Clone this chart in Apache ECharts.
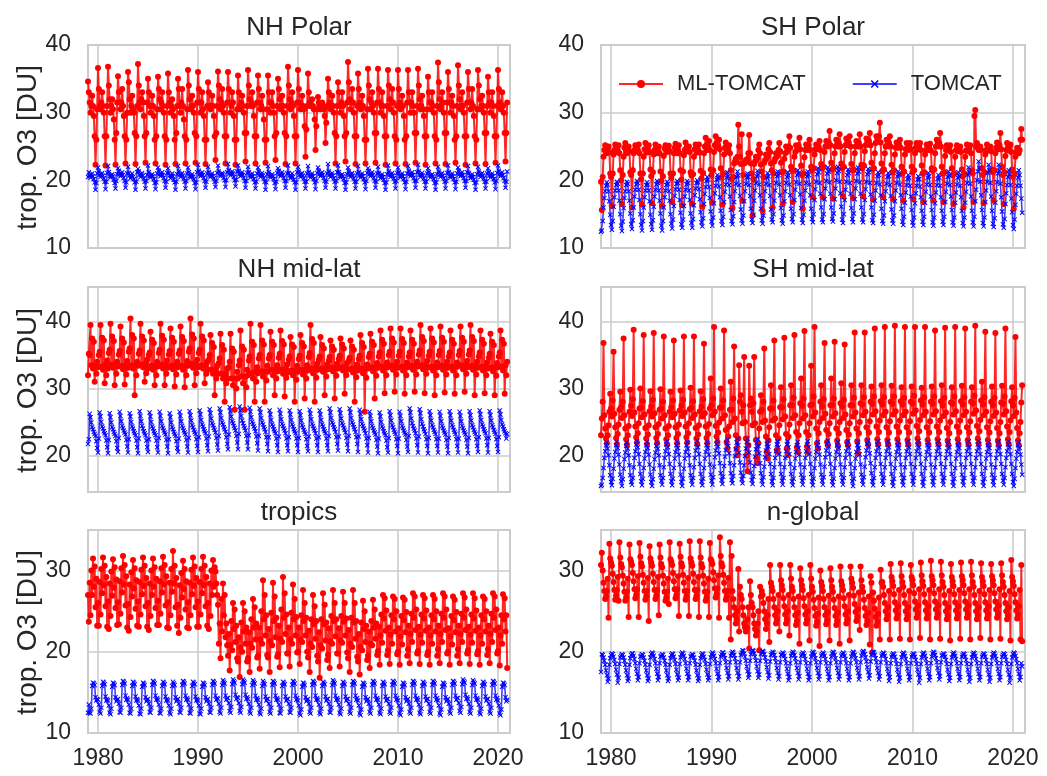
<!DOCTYPE html>
<html>
<head>
<meta charset="utf-8">
<title>Tropospheric ozone column: ML-TOMCAT vs TOMCAT</title>
<script src="https://cdn.jsdelivr.net/npm/echarts@6/dist/echarts.min.js"></script>
<style>
  html, body { margin: 0; padding: 0; background: #ffffff; }
  #chart { width: 1047px; height: 776px; }
</style>
</head>
<body>
<div id="chart"></div>
<script>
// Monthly tropospheric O3 columns [DU], Jan 1979 - Dec 2020, one row per year (Jan..Dec).
const START_YEAR = 1979;
const panelTitles = ['NH Polar', 'SH Polar', 'NH mid-lat', 'SH mid-lat', 'tropics', 'n-global'];
const seriesNames = ['ML-TOMCAT', 'TOMCAT'];
const yAxisTitle = 'trop. O3 [DU]';
const yMin = [10, 10, 14.5, 14.5, 10, 10];
const yMax = [40, 40, 45.2, 45.2, 35, 35];

const nhPolarML = [
[34.6,33,31.5,30,31,32.5,31,29.5,26.5,22.3,26,30.5],
[36.6,33.5,31,30.5,31.5,33,31,30,26.5,22.2,26.5,31],
[36.8,34,32,30,31,32,30.5,29,26,22.3,27,31.5],
[35.4,33,31.5,30.5,31.5,33.5,31,29.5,26.5,22.5,26,30],
[36,34.5,32,30,31,32.5,30.5,30,27,22.4,26.5,31],
[37.2,34,31.5,30.5,32,33,31.5,29.5,26.5,22.6,27,31.5],
[35,33,31,30,31,32.5,31,29.5,26,22.5,26.5,30.5],
[35.3,33.5,32,30.5,31.5,33,31,30,26.5,22.3,26,31],
[35.8,33,31.5,30,31,32,30.5,29.5,26,22.4,27,31],
[35,33.5,31,30,31.5,33.5,31,29,26.5,22.5,26,30.5],
[36.3,34,32,30.5,31,32.5,31,30,27,22.6,26.5,31.5],
[36,33.5,31.5,30,31.5,33,30.5,29.5,26,22.4,26,31],
[34.5,33,31,30.5,31,32.5,31,29.5,26.5,23,27,31],
[36.1,34,32,30.5,31.5,33.5,31,30,26.5,22.5,26.5,31.5],
[36,33.5,31.5,30,31,33,31.5,29.5,26,22.3,26,30.5],
[35.5,33,31,30.5,31.5,32.5,31,30,27,22.8,27,31],
[36.3,34,32,31,31.5,33,31,29.5,26.5,22.5,26.5,31.5],
[35.5,33.5,31.5,30.5,31,32.5,30.5,29,26,22.6,26,30.5],
[35.5,33,31.5,30,31.5,33,31,30,26.5,23,27,31],
[35,33.5,32,30.5,31,32.5,31,30,27,22.4,26.5,31],
[36.8,34,32,30.5,31.5,33,31,29.5,26.5,22.5,26.5,31.5],
[36.3,33.5,31.5,30.5,31,32.5,31,30.5,28,23.5,27.5,31],
[35.8,33,31.5,31,31,32,31,30.5,29,24.5,28,30.5],
[32.3,31.5,31,30.5,31,31.5,31,30.5,29.5,25.5,28.5,31],
[35,33,31.5,30.5,31,32.5,31,30,27,22.5,26.5,31],
[34.5,33,31,30,31.5,33,31,29.5,26.5,22.8,27,31.5],
[37.5,34.5,32,30.5,31.5,33.5,31.5,30,26.5,22.4,26.5,31],
[35.8,33.5,31.5,30.5,31,32.5,31,29.5,26,22.5,26,30.5],
[36.5,34,32,30.5,31.5,33,31,30,27,22.6,27,31.5],
[36.5,33.5,31.5,30,31,33,31,29.5,26.5,22.3,26.5,31],
[36.3,34,32,30.5,31.5,33.5,31.5,30,26.5,22.5,26,31],
[36.3,33.5,31.5,30.5,31,32.5,31,29.5,26,22.4,26.5,31.5],
[36.3,33,31.5,30,31.5,33,31,30,27,22.6,27,31],
[36.5,34,32,30.5,31,32.5,30.5,29.5,26.5,22.3,26.5,30.5],
[35.3,33,31.5,30.5,31.5,33,31,30,26.5,22.5,26,31],
[37.4,34.5,32,30.5,31,33,31.5,30,27,22.4,27,31.5],
[36,33.5,31.5,30,31.5,32.5,31,29.5,26,22.6,26.5,31],
[37,34,32,30.5,31,33,31,30,26.5,22.3,26.5,31.5],
[36,33.5,31.5,30.5,31.5,33.5,31,29.5,26.5,22.5,26,30.5],
[36.3,34,32,30.5,31,32.5,31,30,27,22.4,27,31],
[35.3,33,31.5,30,31.5,33,31,29.5,26.5,22.6,26.5,31],
[36.3,33.5,31.5,30.5,31,33,31,30,27,22.8,27,31.5]
];

const nhPolarTC = [
[20.5,21.2,20.7,20.4,20.8,21,20.6,20.2,19.7,18.6,19.6,21],
[21.9,21.3,20.8,20.5,20.9,21.1,20.7,20.3,19.8,18.7,19.8,21.1],
[22.1,21.2,20.6,20.4,20.7,20.9,20.6,20.1,19.6,18.8,19.9,20.9],
[21.8,21.4,20.9,20.6,20.8,21.2,20.8,20.4,19.9,18.9,19.7,21],
[22,21.1,20.7,20.3,20.6,21,20.5,20.2,19.7,18.6,19.8,21.2],
[21.7,21.3,20.8,20.5,20.9,21.1,20.7,20.3,19.8,18.8,19.9,20.8],
[22.2,21.2,20.6,20.4,20.7,20.9,20.6,20.2,19.6,18.7,19.7,21],
[21.9,21.4,20.9,20.6,20.8,21.2,20.8,20.4,19.9,18.9,19.8,21.1],
[21.8,21.1,20.7,20.3,20.7,21,20.6,20.1,19.7,18.6,19.8,20.9],
[22.1,21.3,20.8,20.5,20.9,21.1,20.7,20.3,19.8,18.8,19.9,21],
[21.9,21.2,20.6,20.4,20.6,20.9,20.5,20.2,19.6,18.7,19.7,21.2],
[22.3,21.4,20.9,20.6,20.8,21.2,20.8,20.4,19.9,18.9,19.8,21],
[22,21.2,20.7,20.5,20.7,21,20.6,20.3,19.8,19,19.9,21.1],
[22.2,21.3,20.8,20.6,20.9,21.1,20.9,20.4,20,19,20,21.2],
[22.4,21.5,21,20.7,21,21.3,21,20.5,20,19.1,20.1,21.3],
[22.2,21.4,20.9,20.6,20.9,21.2,20.8,20.4,19.9,18.9,19.9,21.1],
[22,21.2,20.7,20.4,20.7,21,20.6,20.2,19.7,18.8,19.8,21],
[21.9,21.3,20.8,20.5,20.8,21.1,20.7,20.3,19.8,18.6,19.7,20.9],
[22.1,21.2,20.6,20.4,20.7,20.9,20.6,20.2,19.6,18.7,19.8,21.1],
[21.8,21.4,20.9,20.6,20.8,21.2,20.8,20.4,19.9,18.9,19.9,21],
[22.2,21.1,20.7,20.3,20.6,21,20.5,20.1,19.7,18.6,19.7,21.2],
[22,21.3,20.8,20.5,20.9,21.1,20.7,20.3,19.8,18.8,19.8,21],
[22.1,21.2,20.7,20.4,20.7,21,20.6,20.2,19.7,18.7,19.9,21.1],
[21.9,21.4,20.9,20.6,20.8,21.2,20.8,20.4,19.9,18.9,19.8,21],
[22.4,21.3,20.8,20.5,20.8,21.1,20.7,20.3,19.8,18.8,19.9,21.2],
[22.2,21.2,20.6,20.4,20.7,20.9,20.6,20.2,19.6,18.6,19.7,20.9],
[21.9,21.3,20.8,20.5,20.9,21.1,20.7,20.3,19.8,18.8,19.8,21],
[22.1,21.2,20.7,20.4,20.7,21,20.6,20.2,19.7,18.7,19.9,21.1],
[21.8,21.4,20.9,20.6,20.8,21.2,20.8,20.4,19.9,18.9,19.8,21],
[22,21.1,20.7,20.3,20.6,20.9,20.5,20.1,19.6,18.6,19.7,20.9],
[22.2,21.3,20.8,20.5,20.9,21.1,20.7,20.3,19.8,18.8,19.9,21.1],
[21.9,21.2,20.6,20.4,20.7,21,20.6,20.2,19.7,18.7,19.8,21],
[22.1,21.4,20.9,20.6,20.8,21.2,20.8,20.4,19.9,18.9,19.9,21.2],
[22.3,21.3,20.8,20.5,20.8,21.1,20.7,20.3,19.8,18.8,19.8,21],
[21.8,21.2,20.7,20.4,20.7,20.9,20.6,20.2,19.6,18.6,19.7,20.9],
[22,21.3,20.8,20.5,20.9,21.1,20.7,20.3,19.8,18.8,19.9,21.1],
[22.2,21.2,20.6,20.4,20.7,21,20.6,20.2,19.7,18.7,19.8,21],
[21.9,21.4,20.9,20.6,20.8,21.2,20.8,20.4,19.9,18.9,19.9,21.2],
[22.1,21.1,20.7,20.3,20.6,20.9,20.5,20.1,19.6,18.6,19.7,20.9],
[22,21.3,20.8,20.5,20.9,21.1,20.7,20.3,19.8,18.8,19.8,21],
[21.8,21.2,20.7,20.4,20.7,21,20.6,20.2,19.7,18.7,19.9,21.1],
[22.2,21.4,20.9,20.6,20.8,21.2,20.8,20.4,19.9,18.9,19.8,21.3]
];

const shPolarML = [
[19.8,15.6,20.5,23.5,24.5,25.2,24.5,24,24.8,25,24.2,21],
[20.5,16.2,21,23.8,24.5,25.3,24.6,24.2,24.5,25.2,24,21.5],
[20,16.5,20.8,23.5,24.8,25.5,24.5,24,24.6,25,24.3,21.2],
[20.8,16,21.5,24,24.5,25.2,24.8,24.3,24.5,25.3,24,21],
[20.2,16.4,21,23.5,24.6,25.5,24.5,24.1,24.8,25.2,24.2,21.6],
[20.6,16.6,21.2,23.8,24.5,25.3,24.7,24,24.5,25,24,21.3],
[19.9,16.2,20.6,23.6,24.7,25.2,24.5,24.2,24.6,25.1,24.3,21],
[20.4,16.8,21,24,24.8,25.4,24.6,24,24.5,25.2,24,21.5],
[20.1,16.3,21.3,23.7,24.5,25.6,24.8,24.3,24.7,25,24.2,21.2],
[20.7,16.5,20.9,23.5,24.6,25.3,24.5,24.1,24.5,25.3,24.1,21.4],
[20.3,16.1,21.1,24,25,26.3,25.2,24.5,25,25.8,24.5,21.6],
[20.8,16.7,21.5,24.2,25.2,26.5,25.5,24.8,25.2,26,24.6,21.8],
[20.5,16.4,21,23.8,24.8,25.6,24.8,24.2,24.6,25.2,24,21.5],
[20.2,15.9,20.5,22.5,22.8,23.2,22.7,23.5,28.2,25,23.5,22.4],
[26.8,17,20.8,22.5,22.6,23,22.8,23.2,24,26.7,24,22.5],
[21,14.8,20.2,22.4,22.8,23.5,23,23.4,24.5,25.3,24,22.3],
[21.3,15.5,20.5,22.6,23,23.8,23.2,23.6,24.6,25.5,24.2,22.5],
[21.5,16,21,22.8,23.2,24,23.5,23.8,24.5,25.5,24.3,22.6],
[21.2,16.5,21.3,23.2,24,25,24.2,24.5,25,26.5,24.8,22],
[21.5,16.8,21.5,23.5,24.2,25.2,24.5,24.6,25.2,26.3,24.6,22.2],
[20.8,15.8,21,23.4,24.5,25.3,24.8,24.5,25.2,26,24.5,22],
[21.5,17.5,21.8,23.8,24.6,25.3,24.8,24.6,25,25.8,24.5,22.4],
[21.8,17.5,22,24.2,25,25.8,25.2,25,25.6,27.3,25.2,22.6],
[21.6,17.3,21.8,24,25,26,25.3,25,25.5,26.8,25,22.5],
[21.8,17.6,22,24.2,25.2,26.2,25.5,25.2,25.6,26.5,25,22.4],
[21.5,17.4,21.6,24,25,25.8,25.2,25,25.5,26.8,25,22.3],
[21.8,17.6,22.2,24.3,25.2,26.2,25.6,25.3,25.8,27,25.2,22.6],
[21.6,17.2,21.8,24,25.5,26.5,26,25.8,26.5,28.5,25.6,22.5],
[21.4,17.5,21.6,24,25,26,25.3,25,25.5,26.5,25,22.3],
[21.2,17.2,21.5,23.8,24.8,25.6,25,24.8,25.3,26,24.8,22],
[21,17,21.3,23.8,24.6,25.5,24.8,24.5,25,25.5,24.6,22],
[21.2,17.2,21.5,24,24.8,25.5,25,24.6,25,25.5,24.5,22.2],
[21,16.8,21.2,23.8,24.5,25.3,24.8,24.5,24.8,25.4,24.4,21.8],
[21.4,17,21.6,24,25,26,25.3,25,25.5,27,25,22],
[21,16.8,21.2,23.6,24.5,25.2,24.7,24.4,24.8,25.2,24.2,21.8],
[20.8,16.5,21,23.5,24.5,25.2,24.6,24.3,24.7,25,24.2,21.6],
[20.6,16,21,23.5,24.4,25.3,24.5,24.3,24.6,25.2,24,21.5],
[21,16.8,29.5,30.4,25,25.5,24.8,24.5,24.8,25,24.5,21.8],
[20.8,16.6,21.2,23.8,24.5,25.3,24.7,24.4,24.8,25,24.3,21.6],
[21.2,17,21.5,24,24.8,25.6,25,24.6,25.2,27,24.6,22],
[20.8,16.5,21.2,23.6,24.5,25.5,24.8,24.4,24.8,25.3,24.2,21.6],
[20.5,15.8,21,23.5,24.2,24.8,24.2,24,24.5,26,27.6,26]
];

const shPolarTC = [
[12.4,12.6,14,16,17.4,18.4,19.2,19.7,19.4,18.4,16.9,14.9],
[13.4,12.7,14,16.1,17.5,18.5,19.3,19.8,19.5,18.5,17,15],
[13.3,12.5,13.9,15.9,17.4,18.4,19.3,19.8,19.5,18.4,17,15.1],
[13.5,12.8,14.1,16,17.6,18.6,19.4,19.9,19.6,18.6,17.1,15],
[13.4,12.6,14,16,17.5,18.5,19.3,19.7,19.4,18.5,16.9,14.9],
[13.5,12.7,14.1,16.1,17.6,18.6,19.4,19.9,19.6,18.5,17,15.1],
[13.3,12.6,14,16,17.5,18.5,19.3,19.8,19.5,18.4,17,15],
[13.6,12.9,14.2,16.2,17.7,18.7,19.5,19.9,19.6,18.6,17.1,15.2],
[13.5,13,14.2,16.2,17.6,18.6,19.4,19.9,19.6,18.5,17.1,15.1],
[13.7,13,14.3,16.3,17.8,18.8,19.6,20,19.7,18.7,17.2,15.3],
[13.8,13.2,14.4,16.5,18,19,19.9,20.5,20.1,19,17.4,15.4],
[13.9,13.3,14.5,16.6,18.1,19.2,20.1,20.8,20.3,19.1,17.5,15.5],
[14,13.4,14.6,16.8,18.3,19.4,20.4,21.2,20.6,19.3,17.6,15.6],
[14,13.5,14.7,16.8,18.4,19.5,20.5,21.3,20.7,19.3,17.7,15.7],
[14.1,13.6,14.8,16.9,18.4,19.5,20.4,21,20.5,19.3,17.7,15.8],
[14.2,13.7,14.9,17,18.5,19.6,20.6,21.4,20.8,19.4,17.8,15.8],
[14.1,13.6,14.8,16.9,18.4,19.5,20.4,21.1,20.6,19.3,17.7,15.7],
[14.2,13.8,15,17,18.5,19.6,20.6,21.3,20.8,19.4,17.8,15.9],
[14.1,13.6,14.8,16.9,18.4,19.6,20.5,21.2,20.7,19.4,17.8,15.8],
[14.3,13.8,15,17.1,18.6,19.7,20.8,21.5,21,19.5,17.9,15.9],
[14.2,13.7,14.9,17,18.5,19.6,20.6,21.3,20.8,19.4,17.8,15.8],
[14.3,13.8,15,17.1,18.7,19.8,20.9,21.8,21.2,19.6,18,16],
[14.2,13.8,15,17.2,18.8,19.9,21,21.9,21.3,19.7,18,16],
[14.3,13.9,15.1,17.2,18.8,20,21.1,22,21.4,19.8,18.1,16.1],
[14.2,13.7,15,17.1,18.6,19.8,20.8,21.6,21.1,19.6,18,15.9],
[14.3,13.8,15.1,17.2,18.8,19.9,21,21.9,21.3,19.7,18,16],
[14.2,13.8,15,17.1,18.7,19.8,20.9,21.7,21.2,19.6,17.9,16],
[14.1,13.7,14.9,17,18.5,19.6,20.6,21.2,20.8,19.4,17.8,15.8],
[14,13.6,14.8,16.9,18.4,19.5,20.5,21.1,20.6,19.3,17.7,15.7],
[14.1,13.6,14.8,16.9,18.5,19.6,20.6,21.3,20.8,19.4,17.8,15.8],
[13.9,13.4,14.6,16.7,18.2,19.3,20.2,20.8,20.4,19.2,17.6,15.6],
[13.8,13.3,14.5,16.6,18.1,19.2,20.1,20.6,20.2,19.1,17.5,15.5],
[13.9,13.4,14.6,16.7,18.3,19.4,20.4,21.1,20.6,19.3,17.6,15.6],
[13.8,13.3,14.5,16.6,18.2,19.3,20.2,20.8,20.4,19.2,17.5,15.5],
[13.9,13.4,14.6,16.8,18.3,19.5,20.5,21.3,20.7,19.3,17.6,15.6],
[13.8,13.3,14.5,16.7,18.2,19.4,20.4,21.2,20.6,19.2,17.5,15.5],
[13.7,13.2,14.5,16.7,18.3,19.6,20.8,21.9,21.2,19.5,17.6,15.5],
[13.8,13.2,14.6,16.9,18.6,20,21.3,22.8,21.8,19.8,17.8,15.6],
[13.7,13.2,14.5,16.8,18.5,19.8,21.1,22.3,21.5,19.6,17.6,15.5],
[13.6,13.1,14.4,16.7,18.4,19.7,21,22.3,21.4,19.5,17.5,15.4],
[13.5,13,14.3,16.5,18.1,19.3,20.5,21.5,20.9,19.3,17.3,15.3],
[13.4,12.8,14.2,16.4,18,19.2,20.4,21.5,20.8,19.2,17.3,15.2]
];

const nhMidML = [
[32,35.2,35,39.5,33.5,37.5,33,37,31,33.5,32.2,34],
[33.2,35,35.5,39.5,33.3,37.6,32.8,37.2,30.8,33.6,32,34.2],
[33,35.3,35.8,39.7,33.6,37.8,33.1,37.1,30.5,33.4,32.2,34],
[33.3,35.1,35.6,39.3,33.4,37.5,32.9,36.9,30.6,33.5,32.1,34.1],
[33.1,35.5,36,40.5,33.5,38,33,37.5,29,33.5,32,34],
[33.4,35.2,35.7,39.7,33.6,37.8,33.2,37.2,31,33.7,32.3,34.3],
[33,35,35.4,38.5,33.4,37.3,32.8,36.8,30.5,33.4,32,34],
[33.3,35.3,35.8,39.7,33.6,37.9,33,37.3,30.5,33.6,32.2,34.2],
[33.1,35.1,35.6,39,33.5,37.6,32.9,37,30.3,33.5,32.1,34],
[33.2,35.2,35.7,39.3,33.4,37.7,32.8,37.1,30.2,33.4,32,34.1],
[33.4,35.5,36,40.5,33.7,38.1,33.1,37.5,30.5,33.7,32.3,34.3],
[33.2,35.3,35.8,39.7,33.5,37.8,33,37.2,30.8,33.5,32.2,34],
[32.8,34.3,35,38,32.8,36.8,32.2,36.2,29,32.8,31.5,33.4],
[32.2,33.8,34.5,38.2,32.2,36.5,31.5,35.8,28,32.2,30.8,33],
[31.5,33.2,34,38.2,31.5,36,30.5,35.5,26.8,31.5,30,32.5],
[31.5,33.5,34.2,38.7,31.8,36.3,30.8,35.8,26.8,31.8,30.2,32.8],
[32,34.2,34.8,39.7,32.3,37,31.5,36.5,28,32.5,31,33.2],
[32.3,34.5,35,39.5,32.6,37.2,31.8,36.6,28,32.6,31.2,33.4],
[32.5,34.5,35,38.5,32.8,37,32,36.5,29,32.8,31.5,33.5],
[32.6,34.6,35.2,38.7,32.9,37.1,32.2,36.6,28.8,32.9,31.6,33.6],
[32.4,34.3,34.8,37.7,32.7,36.6,32,36.2,28,32.7,31.3,33.4],
[32.5,34.4,34.9,38,32.8,36.8,32.1,36.3,28.5,32.8,31.5,33.5],
[32.7,34.7,35.3,39.5,33,37.4,32.3,36.8,28,33,31.6,33.7],
[32.8,34.3,34.8,37.7,33,36.5,32.5,36,29,33,31.8,33.6],
[32.9,34.2,34.7,37.2,33.1,36.3,32.6,35.8,28.5,33.1,31.9,33.7],
[33,34.4,34.9,37.5,33.2,36.6,32.7,36,29.2,33.2,32,33.8],
[32.8,34.2,34.6,37.2,33,36.3,32.4,35.8,28,33,31.7,33.6],
[32.7,34.4,34.9,38,33,36.8,32.3,36.2,26.5,33,31.6,33.6],
[33,34.7,35.2,38.2,33.2,37,32.6,36.5,28.5,33.2,31.9,33.8],
[33.1,34.8,35.4,38.7,33.3,37.3,32.7,36.7,29.3,33.3,32,33.9],
[33.2,35,35.5,39,33.4,37.5,32.8,36.9,29.5,33.4,32.1,34],
[33.1,34.9,35.5,39,33.3,37.4,32.7,36.8,29.2,33.3,32,33.9],
[33.2,34.8,35.4,38.7,33.4,37.3,32.8,36.7,29.5,33.4,32.1,34],
[33.3,35.1,35.7,39.5,33.5,37.7,32.9,37.1,29.3,33.5,32.2,34.1],
[33.1,34.9,35.5,39,33.3,37.5,32.7,36.9,29,33.3,32,33.9],
[33.2,35,35.6,39.3,33.4,37.6,32.8,37,29.4,33.4,32.1,34],
[33.1,34.8,35.4,38.7,33.3,37.3,32.7,36.7,29.2,33.3,32,33.9],
[33.3,35,35.6,39.3,33.5,37.6,32.9,37,29.5,33.5,32.2,34.1],
[33.2,35.1,35.7,39.5,33.4,37.7,32.8,37.1,29,33.4,32.1,34],
[33.1,34.8,35.4,38.7,33.3,37.3,32.7,36.7,29.3,33.3,32,33.9],
[33,34.6,35.2,38.2,33.2,37,32.6,36.5,29,33.2,31.9,33.8],
[33.2,34.8,35.4,38.7,33.3,37.3,32.7,36.7,29.2,33.5,32,34]
];

const nhMidTC = [
[21.7,22.4,26.2,25.7,24.9,24.2,23.9,23.5,23.2,22.9,22.1,21.1],
[20.4,22.5,26.4,25.8,25,24.3,24,23.6,23.3,23,22.2,21.2],
[20.3,22.3,26.3,25.7,24.9,24.2,23.9,23.5,23.2,22.9,22.1,21.1],
[20.5,22.6,26.5,25.9,25.1,24.4,24.1,23.7,23.4,23.1,22.3,21.3],
[20.4,22.4,26.3,25.8,25,24.3,24,23.6,23.3,23,22.2,21.2],
[20.3,22.5,26.6,25.9,25.1,24.4,24,23.6,23.3,23,22.2,21.2],
[20.5,22.4,26.4,25.8,25,24.3,24,23.6,23.3,23,22.2,21.2],
[20.4,22.6,26.5,25.9,25.1,24.4,24.1,23.7,23.4,23.1,22.3,21.3],
[20.3,22.4,26.3,25.7,24.9,24.2,23.9,23.5,23.2,22.9,22.1,21.1],
[20.5,22.5,26.5,25.9,25.1,24.4,24.1,23.7,23.4,23.1,22.3,21.3],
[20.4,22.6,26.6,26,25.2,24.5,24.2,23.8,23.5,23.2,22.4,21.4],
[20.5,22.7,26.7,26.1,25.3,24.6,24.3,23.9,23.6,23.3,22.5,21.5],
[20.6,22.8,26.9,26.3,25.5,24.8,24.5,24.1,23.8,23.4,22.6,21.6],
[20.7,22.9,27,26.4,25.6,24.9,24.6,24.2,23.9,23.5,22.7,21.7],
[20.9,23.1,27.2,26.6,25.8,25.1,24.8,24.4,24.1,23.7,22.9,21.9],
[20.9,23.2,27.3,26.7,25.9,25.2,24.8,24.4,24.1,23.7,22.9,21.9],
[20.9,23,27.1,26.5,25.7,25,24.7,24.3,24,23.6,22.8,21.8],
[20.7,22.9,27,26.4,25.6,24.9,24.6,24.2,23.9,23.5,22.7,21.7],
[20.6,22.7,26.7,26.1,25.3,24.6,24.3,23.9,23.6,23.3,22.5,21.5],
[20.5,22.8,26.8,26.2,25.4,24.7,24.4,24,23.7,23.3,22.5,21.5],
[20.6,22.7,26.7,26.1,25.3,24.6,24.3,23.9,23.6,23.3,22.5,21.5],
[20.5,22.6,26.6,26,25.2,24.5,24.2,23.8,23.5,23.2,22.4,21.4],
[20.6,22.8,26.8,26.2,25.4,24.7,24.4,24,23.7,23.3,22.5,21.5],
[20.5,22.7,26.7,26.1,25.3,24.6,24.3,23.9,23.6,23.3,22.5,21.5],
[20.6,22.9,27,26.4,25.6,24.9,24.6,24.2,23.9,23.5,22.7,21.7],
[20.7,22.8,26.9,26.3,25.5,24.8,24.5,24.1,23.8,23.4,22.6,21.6],
[20.6,22.9,27,26.4,25.6,24.9,24.6,24.2,23.9,23.5,22.7,21.7],
[20.5,22.8,26.8,26.2,25.4,24.7,24.4,24,23.7,23.3,22.5,21.5],
[20.4,22.6,26.5,25.9,25.1,24.4,24.1,23.7,23.4,23.1,22.3,21.3],
[20.3,22.5,26.4,25.8,25,24.3,24,23.6,23.3,23,22.2,21.2],
[20.4,22.6,26.6,26,25.2,24.5,24.2,23.8,23.5,23.2,22.4,21.4],
[20.3,22.5,26.5,25.9,25.1,24.4,24.1,23.7,23.4,23.1,22.3,21.3],
[20.5,22.9,27,26.4,25.5,24.8,24.4,24,23.7,23.3,22.5,21.5],
[20.4,22.8,26.9,26.3,25.4,24.7,24.3,23.9,23.6,23.2,22.4,21.4],
[20.3,22.6,26.6,26,25.2,24.5,24.2,23.8,23.5,23.2,22.4,21.4],
[20.4,22.5,26.5,25.9,25.1,24.4,24.1,23.7,23.4,23.1,22.3,21.3],
[20.3,22.6,26.6,26,25.2,24.5,24.2,23.8,23.5,23.2,22.4,21.4],
[20.4,22.5,26.5,25.9,25.1,24.4,24.1,23.7,23.4,23.1,22.3,21.3],
[20.3,22.6,26.6,26,25.2,24.5,24.2,23.8,23.5,23.2,22.4,21.4],
[20.5,22.7,26.7,26.1,25.3,24.6,24.3,23.9,23.6,23.3,22.5,21.5],
[20.4,22.6,26.6,26,25.2,24.5,24.2,23.8,23.5,23.2,22.4,21.4],
[20.5,22.7,26.7,26.1,25.3,24.6,24.3,23.9,23.6,23.3,22.5,23.2]
];

const shMidML = [
[23,25.5,28,36.8,26,24,22.5,21.8,23,24.5,26.5,29.2],
[27,25.8,28.2,35.5,26.2,24.2,22.6,21.7,23.2,24.6,26.8,29.5],
[27.2,25.6,28,37.5,26,24,22.4,21.6,23,24.4,26.5,29.8],
[27.4,25.9,28.4,38.8,26.4,24.3,22.7,21.9,23.3,24.8,27,30],
[27.1,25.7,28.1,38,26.1,24.1,22.5,21.7,23.1,24.5,26.6,29.6],
[27.3,25.8,28.3,38.3,26.3,24.2,22.6,21.8,23.2,24.7,26.8,29.9],
[27,25.5,28,37.8,26,24,22.4,21.6,23,24.4,26.5,29.5],
[27.2,25.7,28.2,37.2,26.2,24.2,22.6,21.8,23.2,24.6,26.7,29.7],
[27.4,25.9,28.3,37.8,26.4,24.3,22.7,21.9,23.3,24.8,26.9,30.1],
[27.1,25.6,28.1,37.8,26.1,24.1,22.5,21.7,23.1,24.5,26.6,29.6],
[27.3,25.8,28.4,36.7,26.3,24.3,22.6,21.8,23.2,24.7,27,31.5],
[27.5,26,28.5,39.2,26.5,24.4,22.8,22,23.4,24.9,27.1,30],
[27.2,25.5,28.2,38.7,26,23.8,22,21,22.8,24.3,26.8,31],
[26.8,25,28.5,36.3,25.5,23,21,20,22.5,33.5,28,29],
[26.5,24.8,27.5,34.7,25,22.5,20,17.6,21.5,33.4,27.5,28.5],
[26.5,24.5,27.8,34.7,24.8,22.3,19.5,18.8,21.8,24,26.5,29],
[26.8,25,28,36,25.2,22.8,20.5,19.5,22.2,24.2,27,30.5],
[27,25.2,28.2,37.2,25.5,23,20.8,20.5,22.5,24.5,27.2,30.2],
[27.2,25.4,28.4,37.6,25.8,23.2,21,20,22.8,24.6,27.5,30.5],
[27.5,25.6,28.6,38,26,23.5,21.2,20.5,23,24.8,27.8,31.5],
[27.4,25.5,28.5,38.6,26,23.5,21.3,20.5,23,24.8,27.5,33.4],
[27.6,25.8,28.8,39.2,26.4,24,21.8,21,23.3,25,28,30.5],
[27.3,25.6,28.4,36.8,26.2,23.8,22,21.5,23.2,24.8,27.5,31.5],
[27.5,25.8,28.5,37,26.3,24,22.2,21.4,23.3,25,27.8,30.8],
[27.3,25.6,28.3,36.6,26.1,23.8,22,21.5,23.1,24.8,27.5,30.5],
[27.5,25.8,28.6,38.4,26.4,24,22.1,20.3,23.3,25,27.8,30.5],
[27.6,26,28.7,38.4,26.5,24.2,22.3,21.6,23.4,25.1,28,30.3],
[27.7,26.1,28.8,39,26.6,24.3,22.4,21.7,23.5,25.2,28.1,30.5],
[27.6,26,28.7,39.2,26.5,24.2,22.3,21.6,23.4,25.1,28,30.4],
[27.7,26.1,28.8,39.4,26.6,24.3,22.4,21.7,23.5,25.2,28.1,30.2],
[27.6,26,28.6,39.2,26.5,24.2,22.3,21.6,23.4,25.1,28,30.3],
[27.8,26.2,28.9,39.2,26.7,24.4,22.5,21.8,23.6,25.3,28.2,30.1],
[27.6,26,28.7,39.2,26.5,24.2,22.3,21.6,23.4,25.1,28,30.3],
[27.7,26.1,28.8,38.7,26.6,24.3,22.4,21.7,23.5,25.2,28.1,30.5],
[27.5,25.9,28.6,39.1,26.4,24.1,22.2,21.5,23.3,25,27.9,30.2],
[27.7,26.1,28.8,39.2,26.6,24.3,22.4,21.7,23.5,25.2,28.1,30.4],
[27.6,26,28.7,39,26.5,24.2,22.3,21.6,23.4,25.1,28,30.2],
[27.8,26.2,28.9,39.4,26.7,24.4,22.5,21.8,23.6,25.3,28.2,31],
[27.6,26,28.7,38.5,26.5,24.2,22.3,21.6,23.4,25.1,28,30.3],
[27.5,25.9,28.6,38.3,26.4,24.1,22.2,21.5,23.3,25,27.9,30.4],
[27.7,26.1,28.8,39,26.6,24.3,22.4,21.7,23.5,25.2,28.1,30.2],
[27.5,25.9,28.6,37.7,26.4,24.1,22.2,21.5,23.3,25,27.9,30.5]
];

const shMidTC = [
[15.4,15.6,16.6,18.1,19.6,20.6,21.5,21.9,21,20,18.5,17],
[16,15.5,16.5,18,19.5,20.5,21.5,22,21.1,20.1,18.6,17.1],
[16.1,15.4,16.4,18,19.4,20.4,21.4,21.9,21,20,18.5,17],
[16,15.6,16.6,18.2,19.6,20.6,21.6,22.1,21.2,20.2,18.7,17.2],
[16.1,15.5,16.5,18.1,19.5,20.5,21.5,22,21.1,20.1,18.6,17.1],
[16,15.4,16.4,18,19.4,20.4,21.4,21.9,21,20,18.5,17],
[16.2,15.6,16.6,18.2,19.6,20.6,21.6,22.1,21.2,20.2,18.7,17.2],
[16.1,15.5,16.5,18.1,19.5,20.5,21.5,22,21.1,20.1,18.6,17.1],
[16,15.4,16.5,18,19.5,20.5,21.5,22,21,20,18.5,17],
[16.2,15.6,16.6,18.2,19.6,20.7,21.7,22.2,21.2,20.2,18.7,17.2],
[16.1,15.5,16.5,18.1,19.5,20.5,21.5,22,21.1,20.1,18.6,17.1],
[16.2,15.6,16.7,18.3,19.7,20.7,21.7,22.2,21.3,20.3,18.8,17.3],
[16.3,15.7,16.8,18.4,19.8,20.8,21.8,22.3,21.4,20.3,18.8,17.3],
[16.3,15.8,16.9,18.5,19.9,20.9,21.9,22.5,21.5,20.4,18.9,17.4],
[16.4,15.8,16.9,18.5,19.9,21,22,22.5,21.5,20.4,18.9,17.4],
[16.3,15.7,16.8,18.4,19.8,20.9,21.9,22.4,21.4,20.3,18.8,17.3],
[16.2,15.6,16.7,18.3,19.7,20.7,21.7,22.2,21.3,20.2,18.7,17.2],
[16.1,15.5,16.6,18.2,19.6,20.6,21.6,22.1,21.2,20.2,18.7,17.2],
[16.2,15.6,16.6,18.2,19.6,20.6,21.6,22.1,21.2,20.2,18.7,17.2],
[16.1,15.5,16.5,18.1,19.5,20.5,21.5,22,21.1,20.1,18.6,17.1],
[16.2,15.6,16.6,18.2,19.6,20.6,21.6,22.1,21.2,20.2,18.7,17.2],
[16.1,15.5,16.5,18.1,19.5,20.5,21.5,22,21.1,20.1,18.6,17.1],
[16.2,15.6,16.7,18.3,19.7,20.7,21.7,22.2,21.3,20.2,18.7,17.2],
[16.1,15.5,16.5,18.1,19.5,20.5,21.5,22,21.1,20.1,18.6,17.1],
[16.2,15.6,16.6,18.2,19.6,20.6,21.6,22.1,21.2,20.2,18.7,17.2],
[16.1,15.4,16.5,18.1,19.5,20.5,21.5,22,21.1,20.1,18.6,17.1],
[16.2,15.6,16.7,18.3,19.7,20.7,21.7,22.2,21.3,20.3,18.8,17.3],
[16.1,15.5,16.6,18.2,19.6,20.6,21.6,22.1,21.2,20.2,18.7,17.2],
[16.2,15.6,16.6,18.2,19.6,20.6,21.6,22.1,21.2,20.2,18.7,17.2],
[16,15.4,16.5,18.1,19.5,20.5,21.5,22,21.1,20.1,18.6,17.1],
[16.1,15.5,16.6,18.2,19.6,20.6,21.6,22.1,21.2,20.2,18.7,17.2],
[16.2,15.6,16.6,18.2,19.6,20.6,21.6,22.1,21.2,20.2,18.7,17.2],
[16,15.4,16.5,18.1,19.5,20.5,21.5,22,21.1,20.1,18.6,17.1],
[16.1,15.5,16.6,18.2,19.6,20.6,21.6,22.1,21.2,20.2,18.7,17.2],
[16.2,15.6,16.6,18.2,19.6,20.6,21.6,22.1,21.2,20.2,18.7,17.2],
[16,15.4,16.5,18.1,19.5,20.5,21.5,22,21.1,20.1,18.6,17.1],
[16.1,15.5,16.6,18.2,19.6,20.6,21.6,22.1,21.2,20.2,18.7,17.2],
[16.2,15.6,16.6,18.2,19.6,20.6,21.6,22.1,21.2,20.2,18.7,17.2],
[16,15.4,16.5,18.1,19.5,20.5,21.5,22,21.1,20.1,18.6,17.1],
[16.1,15.5,16.6,18.2,19.6,20.6,21.6,22.1,21.2,20.2,18.7,17.2],
[16.2,15.6,16.6,18.2,19.6,20.6,21.6,22.1,21.2,20.2,18.7,17.2],
[16,15.4,16.5,18.1,19.5,20.5,21.5,22,21.1,20.1,18.6,17.1]
];

const tropicsML = [
[27,23.7,28.5,24.5,30,27,31.5,28,30.5,25.5,29,23.2],
[26,23.2,28.6,24.6,30.2,27.2,31.6,28.2,30.6,25.6,29.2,23.1],
[26.2,22.8,28.4,24.4,29.9,26.9,31.4,27.9,30.4,25.4,28.9,23.3],
[26.1,23.4,28.7,24.7,30.3,27.3,31.8,28.3,30.7,25.7,29.3,23],
[25.9,22.6,28.3,24.3,29.8,26.8,31.3,27.8,30.3,25.3,28.8,23.2],
[26.2,23.1,28.6,24.6,30.1,27.1,31.6,28.1,30.6,25.6,29.1,23.1],
[26,22.7,28.4,24.4,30,27,31.5,28,30.4,25.4,29,23.3],
[26.3,23.3,28.7,24.7,30.3,27.3,31.7,28.3,30.7,25.7,29.3,23],
[26.1,22.9,28.5,24.5,30.2,27.4,32.4,28.4,30.6,25.5,29.1,23.2],
[25.8,22.3,28.2,24.2,29.7,26.7,31.2,27.7,30.2,25.2,28.7,23],
[26.1,22.9,28.5,24.5,30.1,27.1,31.6,28.1,30.5,25.5,29.1,23.1],
[26.2,23.1,28.6,24.6,30.2,27.2,31.7,28.2,30.6,25.6,29.2,23.2],
[26,22.8,28.4,24.4,30,27,31.3,28,30.4,29.9,28.4,27],
[25.8,21,23.5,19.2,26.5,22.5,28.4,24.5,27,21.8,23.5,20.8],
[19.5,22.2,17.7,20.8,23.8,20.2,26,22.8,25.2,21.2,23.2,19.2],
[18.8,21.8,16.9,20.5,23.6,20,26,22.5,25,21,23,18.8],
[19.2,22.4,17.5,21,24,20.5,26.5,23,25.5,21.5,23.5,19.3],
[19.5,23,17.9,21.5,25,21,28.8,24,27,22,24.5,19.6],
[19.3,22.8,17.5,21.3,24.8,20.8,28.5,23.8,26.8,21.8,24.2,19.4],
[19.7,23.2,18.1,21.6,25.2,21.2,29.2,24.2,27.2,22.2,24.6,19.8],
[19.8,23,18.2,21.5,24.8,21,28.3,24,26.5,22,24.3,19.9],
[20,23,18.5,21.5,24.5,21.2,27.6,23.8,26,22,24.2,20],
[19.3,22.6,17.5,21,24,20.6,27,23.4,25.6,21.6,23.8,19.5],
[18.8,22.4,16.8,20.8,24,20.4,27.2,23.4,25.8,21.4,23.6,19],
[19.6,22.9,18,21.3,24.4,21,27.6,23.8,26,21.9,24,19.8],
[19.8,22.9,18.2,21.4,24.4,21.1,27.4,23.7,26,22,24.1,19.9],
[19.2,22.7,17.5,21,24.2,20.6,27.6,23.6,26,21.6,23.8,19.4],
[18.8,22.2,17.2,20.6,23.6,20.2,26.3,22.8,25,21.2,23.2,19],
[19.5,22.5,18,21,23.8,20.8,26.4,23,25.2,21.6,23.5,19.6],
[20.1,23.1,18.4,22,24.6,21.1,27,24.1,26.6,22.6,25.1,19.6],
[20.2,23,18.5,22.1,24.5,21,26.8,24,26.5,22.5,25,19.7],
[20,22.9,18.4,21.9,24.4,20.9,26.7,23.9,26.4,22.4,24.9,19.5],
[20.3,23.2,18.6,22.2,24.7,21.2,27.2,24.2,26.8,22.7,25.2,19.8],
[20.1,23.1,18.5,22.1,24.6,21.1,27,24.1,26.6,22.6,25.1,19.6],
[20,23,18.4,22,24.5,21,27,24,26.5,22.5,25,19.5],
[20.3,23.2,18.6,22.2,24.7,21.2,27.2,24.2,26.8,22.7,25.2,19.8],
[20,22.9,18.4,21.9,24.4,20.9,26.8,23.9,26.4,22.4,24.9,19.5],
[20.3,23.2,18.6,22.2,24.7,21.2,27.2,24.2,26.7,22.7,25.2,19.8],
[20.2,23.1,18.5,22.1,24.6,21.1,27.2,24.1,26.6,22.6,25.1,19.7],
[20.1,23,18.4,22,24.5,21,26.8,24,26.5,22.5,25,19.6],
[20.3,23.2,18.6,22.2,24.7,21.2,27.2,24.2,26.8,22.7,25.2,19.8],
[20.1,23,18.3,22,24.5,21,27.1,24,26.6,22.5,24.5,18]
];

const tropicsTC = [
[12.5,13.5,12.5,12.4,13,15.8,16.2,16.1,15.9,14.4,14,14.2],
[14.1,13.5,12.6,12.4,13.1,15.8,16.3,16.2,16,14.5,14,14.2],
[14,13.4,12.5,12.3,13,15.7,16.2,16.1,15.9,14.4,13.9,14.1],
[14.2,13.6,12.6,12.5,13.1,15.9,16.4,16.3,16.1,14.6,14.1,14.3],
[14.1,13.5,12.5,12.4,13,15.8,16.3,16.2,16,14.5,14,14.2],
[14,13.4,12.4,12.3,13,15.7,16.2,16.1,15.9,14.4,13.9,14.1],
[14.2,13.6,12.6,12.5,13.1,15.9,16.4,16.3,16.1,14.6,14.1,14.3],
[14.1,13.5,12.5,12.4,13,15.8,16.3,16.2,16,14.5,14,14.2],
[14,13.4,12.5,12.3,13,15.8,16.3,16.1,15.9,14.4,13.9,14.1],
[14.2,13.6,12.6,12.5,13.1,15.9,16.4,16.3,16.1,14.6,14.1,14.3],
[14.1,13.5,12.5,12.4,13,15.8,16.3,16.2,16,14.5,14,14.2],
[14,13.4,12.4,12.3,13,15.7,16.2,16.1,15.9,14.4,13.9,14.1],
[14.2,13.6,12.6,12.5,13.1,15.9,16.4,16.3,16.1,14.6,14.1,14.3],
[14.2,13.6,12.6,12.4,13.1,15.9,16.5,16.3,16.1,14.6,14.1,14.3],
[14.3,13.7,12.7,12.5,13.2,16,16.6,16.4,16.2,14.7,14.2,14.4],
[14.3,13.7,12.7,12.5,13.2,16,16.6,16.4,16.2,14.7,14.2,14.4],
[14.2,13.6,12.6,12.4,13.1,15.9,16.5,16.3,16.1,14.6,14.1,14.3],
[14.1,13.5,12.5,12.3,13,15.8,16.4,16.2,16,14.5,14,14.2],
[14.2,13.6,12.6,12.4,13.1,15.9,16.4,16.3,16.1,14.6,14.1,14.3],
[14.1,13.5,12.5,12.4,13,15.8,16.3,16.2,16,14.5,14,14.2],
[14.2,13.6,12.6,12.5,13.1,15.9,16.4,16.3,16.1,14.6,14.1,14.3],
[14,13.4,12.4,12.2,12.9,15.7,16.2,16.1,15.9,14.4,13.9,14.1],
[14.2,13.6,12.6,12.4,13.1,15.9,16.4,16.3,16.1,14.6,14.1,14.3],
[14.1,13.5,12.5,12.3,13,15.8,16.3,16.2,16,14.5,14,14.2],
[14.2,13.6,12.6,12.5,13.1,15.9,16.5,16.3,16.1,14.6,14.1,14.3],
[14.1,13.5,12.5,12.3,13,15.8,16.3,16.2,16,14.5,14,14.2],
[14.2,13.6,12.6,12.4,13.1,15.9,16.4,16.3,16.1,14.6,14.1,14.3],
[14,13.4,12.4,12.2,12.9,15.7,16.2,16.1,15.9,14.4,13.9,14.1],
[14.2,13.6,12.6,12.4,13.1,15.9,16.4,16.3,16.1,14.6,14.1,14.3],
[14.1,13.5,12.5,12.3,13,15.8,16.3,16.2,16,14.5,14,14.2],
[14.2,13.6,12.6,12.4,13.1,15.9,16.4,16.3,16.1,14.6,14.1,14.3],
[14,13.4,12.4,12.2,12.9,15.7,16.2,16.1,15.9,14.4,13.9,14.1],
[14.2,13.6,12.6,12.4,13.1,15.9,16.4,16.3,16.1,14.6,14.1,14.3],
[14.1,13.5,12.5,12.3,13,15.8,16.3,16.2,16,14.5,14,14.2],
[14.2,13.6,12.6,12.4,13.1,15.9,16.4,16.3,16.1,14.6,14.1,14.3],
[14,13.4,12.4,12.2,12.9,15.7,16.2,16.1,15.9,14.4,13.9,14.1],
[14.2,13.6,12.6,12.4,13.1,15.9,16.4,16.3,16.1,14.6,14.1,14.3],
[14.3,13.7,12.7,12.5,13.2,16,16.6,16.4,16.2,14.7,14.2,14.4],
[14.2,13.6,12.6,12.4,13.1,15.9,16.5,16.3,16.1,14.6,14.1,14.3],
[14.1,13.5,12.5,12.3,13,15.8,16.3,16.2,16,14.5,14,14.2],
[14.2,13.6,12.6,12.4,13.1,15.9,16.4,16.3,16.1,14.6,14.1,14.3],
[14,13.4,12.4,12.2,12.9,15.7,16.2,16.1,15.9,14.4,13.9,14.1]
];

const globalML = [
[30.7,32.2,30,28.5,27.5,26.5,26.8,27.5,29,24.2,33.3,31.5],
[31,30.6,29.6,28.6,27.6,26.4,26.9,27.6,29.2,26.3,33.5,31.6],
[30.8,30.4,29.4,28.4,27.4,26.3,26.7,27.4,29,24.3,33.2,31.4],
[31.1,30.7,29.7,28.7,27.7,26.6,27,27.7,29.3,24.3,33.4,31.7],
[30.9,30.5,29.5,28.5,27.5,26.4,26.8,27.5,29.1,23.8,33,31.5],
[31,30.6,29.6,28.6,27.6,26.5,26.9,27.6,29.2,24.5,33.2,31.6],
[30.8,30.4,29.4,28.4,27.4,26.3,26.7,27.4,29,25.9,33.5,31.4],
[31.1,30.7,29.7,28.7,27.7,26.6,27,27.7,29.3,24.4,33.3,31.7],
[30.9,30.5,29.5,28.5,27.5,26.4,26.8,27.5,29.1,24.4,33.6,31.5],
[31,30.6,29.6,28.6,27.6,26.5,26.9,27.6,29.2,24.3,33.6,31.6],
[30.8,30.4,29.4,28.4,27.4,26.3,26.7,27.4,29,24.3,33.4,31.4],
[31.2,30.8,29.8,28.8,27.8,26.7,27.1,27.8,29.4,24.2,34.1,31.8],
[30.9,30.5,29.5,28.5,27.5,26.4,26.8,27.5,29.1,24.2,33.5,21.5],
[31.8,27.5,26.5,25.5,24.5,23.5,24,25,30.2,22.5,28,27],
[26.5,25.5,24.5,23.5,23,22.5,23,24,25.5,20.4,28.7,27],
[26,25.5,24.5,23.5,22.8,22,22.5,23.5,25,20.2,28,26.8],
[27.5,27,26,25,24,22.8,23.5,24.5,26.5,21.2,30.7,28.5],
[28,27.5,26.5,25.5,24.5,23.5,24,25,27,22.5,30.7,28.8],
[28.2,27.6,26.6,25.6,24.6,23.5,24,25,27,22,30.7,29],
[28,27.5,26.5,25.5,24.5,23.3,23.8,24.8,26.8,21,30.3,28.8],
[28.2,27.6,26.6,25.6,24.6,23.5,24,25,27,21.4,30.7,29],
[28,27.4,26.4,25.4,24.4,23.2,23.7,24.7,26.7,20.7,30,28.6],
[28.1,27.5,26.5,25.5,24.5,23.4,23.9,24.9,26.9,21.4,30.3,28.8],
[28,27.4,26.4,25.4,24.4,23.3,23.8,24.8,26.8,21,30.5,28.7],
[28.2,27.6,26.6,25.6,24.6,23.5,24,25,27,21.4,30.5,29],
[28.5,27.9,26.9,25.9,24.9,23.8,24.3,25.3,27.3,22.7,30.5,28.8],
[28,27.4,26.4,25.4,24.4,23.3,23.8,24.8,26.8,20.9,29.3,28.5],
[19.9,27.3,26.3,25.3,24.3,23.2,23.7,24.7,26.7,21.5,30.1,28.5],
[28.6,28,27,26,25,24,24.5,25.5,27.5,21.5,30.8,29.2],
[28.7,28.1,27.1,26.1,25.1,24.1,24.6,25.6,27.6,21.6,30.9,29.3],
[28.6,28,27,26,25,24,24.5,25.5,27.5,21.5,30.7,29.2],
[28.8,28.2,27.2,26.2,25.2,24.2,24.7,25.7,27.7,21.7,31,29.4],
[28.7,28.1,27.1,26.1,25.1,24.1,24.6,25.6,27.6,21.5,31.2,29.3],
[28.8,28.2,27.2,26.2,25.2,24.2,24.7,25.7,27.7,21.6,31.1,29.4],
[28.6,28,27,26,25,24,24.5,25.5,27.5,21.4,30.8,29.2],
[28.7,28.1,27.1,26.1,25.1,24.1,24.6,25.6,27.6,21.6,31,29.3],
[28.8,28.2,27.2,26.2,25.2,24.2,24.7,25.7,27.7,21.5,31.1,29.4],
[28.6,28,27,26,25,24,24.5,25.5,27.5,21.7,30.9,29.2],
[28.7,28.1,27.1,26.1,25.1,24.1,24.6,25.6,27.6,21.5,30.8,29.3],
[28.8,28.2,27.2,26.2,25.2,24.2,24.7,25.7,27.7,21.6,30.9,29.4],
[28.6,28,27,26,25,24,24.5,25.5,27.5,21.4,31.3,29.2],
[28.7,28.1,27.1,26.1,25.1,24.1,24.6,25.6,27.6,21.5,30.7,21.3]
];

const globalTC = [
[17.5,19.7,19.6,19.3,18.9,18.4,17.7,17.1,16.3,16.7,18.4,19.2],
[19.6,19.8,19.7,19.4,19,18.5,17.8,17.2,16.2,16.8,18.5,19.3],
[19.5,19.7,19.6,19.3,18.9,18.4,17.7,17.1,16.4,16.7,18.4,19.2],
[19.6,19.8,19.8,19.5,19.1,18.6,17.9,17.3,16.5,16.9,18.6,19.4],
[19.5,19.7,19.6,19.3,18.9,18.4,17.7,17.1,16.4,16.7,18.4,19.3],
[19.7,19.9,19.8,19.5,19.1,18.6,17.9,17.3,16.5,16.9,18.6,19.4],
[19.5,19.7,19.6,19.3,18.9,18.4,17.7,17.1,16.4,16.7,18.4,19.2],
[19.6,19.8,19.7,19.4,19,18.5,17.8,17.2,16.5,16.8,18.5,19.3],
[19.7,19.9,19.8,19.5,19.1,18.6,17.9,17.3,16.5,16.9,18.6,19.4],
[19.5,19.7,19.6,19.3,18.9,18.4,17.7,17.1,16.4,16.7,18.4,19.2],
[19.6,19.8,19.7,19.4,19,18.5,17.8,17.2,16.5,16.8,18.5,19.3],
[19.7,19.9,19.8,19.5,19.1,18.6,17.9,17.3,16.5,16.9,18.6,19.4],
[19.7,19.9,19.9,19.6,19.2,18.7,18,17.4,16.6,17,18.7,19.5],
[19.8,20,19.9,19.6,19.2,18.7,18,17.4,16.6,17,18.7,19.6],
[19.9,20.2,20.1,19.8,19.4,18.9,18.2,17.6,16.8,17.2,18.9,19.7],
[20,20.2,20.1,19.8,19.4,18.9,18.2,17.6,16.8,17.2,18.9,19.7],
[19.9,20.1,20,19.7,19.3,18.8,18.1,17.5,16.7,17.1,18.8,19.6],
[19.8,20,19.9,19.6,19.2,18.7,18,17.4,16.6,17,18.7,19.6],
[19.7,19.9,19.8,19.5,19.1,18.6,17.9,17.3,16.5,16.9,18.6,19.5],
[19.8,20,19.9,19.6,19.2,18.7,18,17.4,16.6,17,18.7,19.5],
[19.7,19.9,19.8,19.5,19.1,18.6,17.9,17.3,16.5,16.9,18.6,19.4],
[19.8,20,19.9,19.6,19.2,18.7,18,17.4,16.6,17,18.7,19.5],
[19.7,19.9,19.8,19.5,19.1,18.6,17.9,17.3,16.5,16.9,18.6,19.4],
[19.8,20,19.9,19.6,19.2,18.7,18,17.4,16.6,17,18.7,19.5],
[19.7,19.9,19.8,19.5,19.1,18.6,17.9,17.3,16.5,16.9,18.6,19.4],
[19.8,20,19.9,19.6,19.2,18.7,18,17.4,16.6,17,18.7,19.5],
[19.9,20.1,20,19.7,19.3,18.8,18.1,17.5,16.7,17.1,18.8,19.6],
[19.8,20,19.9,19.6,19.2,18.7,18,17.4,16.6,17,18.7,19.5],
[19.7,19.9,19.8,19.5,19.1,18.6,17.9,17.3,16.4,16.9,18.6,19.4],
[19.6,19.8,19.7,19.4,19,18.5,17.8,17.2,16.3,16.8,18.5,19.3],
[19.7,19.9,19.8,19.5,19.1,18.6,17.9,17.3,16.5,16.9,18.6,19.4],
[19.6,19.8,19.7,19.4,19,18.5,17.8,17.2,16.2,16.8,18.5,19.3],
[19.7,19.9,19.8,19.5,19.1,18.6,17.9,17.3,16.5,16.9,18.6,19.4],
[19.8,20,19.9,19.6,19.2,18.7,18,17.4,16.6,17,18.7,19.5],
[19.6,19.8,19.7,19.4,19,18.5,17.8,17.2,16.4,16.8,18.5,19.3],
[19.7,19.9,19.8,19.5,19.1,18.6,17.9,17.3,16.5,16.9,18.6,19.4],
[19.6,19.8,19.7,19.4,19,18.5,17.8,17.2,16.3,16.8,18.5,19.3],
[19.7,19.9,19.8,19.5,19.1,18.6,17.9,17.3,16.5,16.9,18.6,19.4],
[19.6,19.8,19.7,19.4,19,18.5,17.8,17.2,16.3,16.8,18.5,19.3],
[19.7,19.9,19.8,19.5,19.1,18.6,17.9,17.3,16.5,16.9,18.6,19.4],
[19.6,19.8,19.7,19.4,19,18.5,17.8,17.2,16.2,16.8,18.5,19.3],
[19.7,19.9,19.8,19.5,19.1,18.6,17.9,17.3,16.5,16.9,18.6,18.2]
];

// ML-TOMCAT / TOMCAT pairs, in panel order
const panelData = [
  [nhPolarML, nhPolarTC],
  [shPolarML, shPolarTC],
  [nhMidML, nhMidTC],
  [shMidML, shMidTC],
  [tropicsML, tropicsTC],
  [globalML, globalTC]
];

const FONT = "'Liberation Sans', Arial, Helvetica, sans-serif";
const TEXT = '#262626';
const GRIDC = '#cccccc';
const RED = '#ff0000';
const BLUE = '#0000ff';
const X_MARK = 'path://M0,1.4L1.4,0L5,3.6L8.6,0L10,1.4L6.4,5L10,8.6L8.6,10L5,6.4L1.4,10L0,8.6L3.6,5Z';

// panel boxes: two columns, three rows
const colLeft = [88, 601];
const colWidth = [422, 424];
const rowTop = [45, 287, 530];
const rowHeight = [203, 205, 203];

// monthly samples on a decimal-year axis
function toSeries(rows) {
  const out = [];
  rows.forEach(function (row, yi) {
    row.forEach(function (v, mi) {
      out.push([START_YEAR + yi + mi / 12, v]);
    });
  });
  return out;
}

const grids = [], xAxes = [], yAxes = [], series = [], graphics = [];

for (let p = 0; p < 6; p++) {
  const c = p % 2, r = Math.floor(p / 2);
  grids.push({
    left: colLeft[c], top: rowTop[r], width: colWidth[c], height: rowHeight[r],
    show: true, borderColor: GRIDC, borderWidth: 2, backgroundColor: 'transparent'
  });
  xAxes.push({
    type: 'value', gridIndex: p, min: 1979, max: 2021.2, splitNumber: 4,
    axisLine: { show: false }, axisTick: { show: false },
    splitLine: { show: true, lineStyle: { color: GRIDC, width: 1.6 } },
    axisLabel: {
      show: r === 2, fontSize: 23, color: TEXT, fontFamily: FONT, margin: 14,
      showMinLabel: false, showMaxLabel: false,
      formatter: function (v) { return String(Math.round(v)); }
    }
  });
  yAxes.push({
    type: 'value', gridIndex: p, min: yMin[p], max: yMax[p], splitNumber: 3,
    axisLine: { show: false }, axisTick: { show: false },
    splitLine: { show: true, lineStyle: { color: GRIDC, width: 1.6 } },
    axisLabel: {
      fontSize: 23, color: TEXT, fontFamily: FONT, margin: 17,
      showMinLabel: r === 0 || r === 2, showMaxLabel: r === 0,
      formatter: function (v) { return String(Math.round(v)); }
    }
  });

  series.push({
    type: 'line', name: seriesNames[0], xAxisIndex: p, yAxisIndex: p,
    data: toSeries(panelData[p][0]),
    symbol: 'circle', symbolSize: 6, showSymbol: true, showAllSymbol: true,
    lineStyle: { color: RED, width: 2, opacity: 0.85 },
    itemStyle: { color: RED },
    silent: true, animation: false
  });
  series.push({
    type: 'line', name: seriesNames[1], xAxisIndex: p, yAxisIndex: p,
    data: toSeries(panelData[p][1]),
    symbol: X_MARK, symbolSize: 5, showSymbol: true, showAllSymbol: true,
    lineStyle: { color: BLUE, width: 1.6, opacity: 0.75 },
    itemStyle: { color: BLUE },
    silent: true, animation: false
  });

  // panel title
  graphics.push({
    type: 'text', silent: true,
    style: {
      text: panelTitles[p], x: colLeft[c] + colWidth[c] / 2, y: rowTop[r] - 17,
      font: '26px ' + FONT, fill: TEXT, textAlign: 'center', textVerticalAlign: 'middle'
    }
  });
}

// shared y-axis title on the left column
for (let r = 0; r < 3; r++) {
  graphics.push({
    type: 'text', silent: true,
    x: 28, y: rowTop[r] + rowHeight[r] / 2 + 1, rotation: Math.PI / 2,
    style: {
      text: yAxisTitle, x: 0, y: 0,
      font: '28px ' + FONT, fill: TEXT, textAlign: 'center', textVerticalAlign: 'middle'
    }
  });
}

const chart = echarts.init(document.getElementById('chart'), null, { renderer: 'canvas' });
chart.setOption({
  backgroundColor: '#ffffff',
  animation: false,
  grid: grids,
  xAxis: xAxes,
  yAxis: yAxes,
  legend: {
    data: seriesNames, left: 613, top: 68,
    itemWidth: 44, itemHeight: 10, itemGap: 46,
    textStyle: { fontSize: 22, color: TEXT, fontFamily: FONT, padding: [0, 0, 0, 9] },
    selectedMode: false
  },
  graphic: graphics,
  series: series
});
</script>
</body>
</html>
